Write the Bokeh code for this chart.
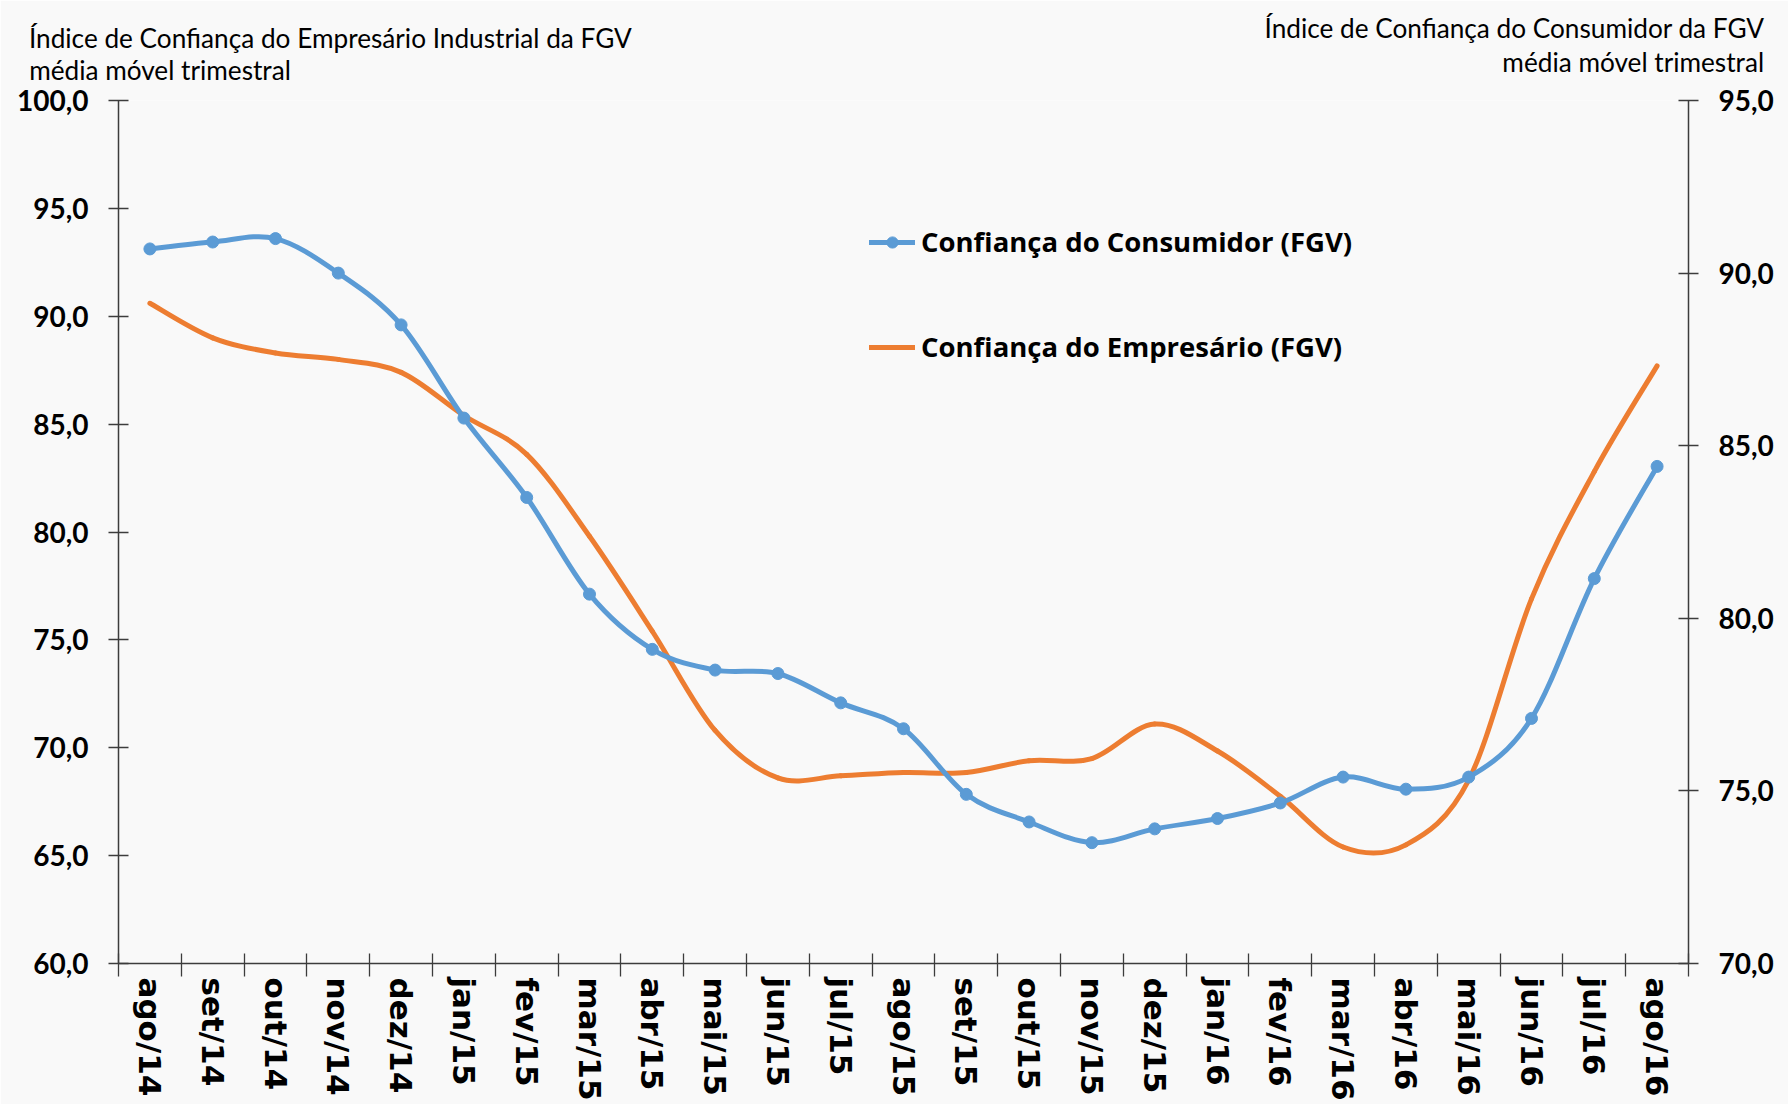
from bokeh.plotting import figure
from bokeh.models import Range1d, LinearAxis, FixedTicker, Legend, LegendItem, ColumnDataSource
from bokeh.embed import file_html
from bokeh.resources import INLINE

# ---------------- data ----------------
months = ["ago/14", "set/14", "out/14", "nov/14", "dez/14", "jan/15", "fev/15", "mar/15",
          "abr/15", "mai/15", "jun/15", "jul/15", "ago/15", "set/15", "out/15", "nov/15",
          "dez/15", "jan/16", "fev/16", "mar/16", "abr/16", "mai/16", "jun/16", "jul/16", "ago/16"]

consumidor = [90.7, 90.9, 91.0, 90.0, 88.5, 85.8, 83.5, 80.7, 79.1, 78.5, 78.4, 77.55, 76.8,
              74.9, 74.1, 73.5, 73.9, 74.2, 74.65, 75.4, 75.05, 75.4, 77.1, 81.15, 84.4]

empresario = [90.6, 89.0, 88.3, 88.0, 87.4, 85.4, 83.6, 79.8, 75.4, 70.8, 68.6, 68.7, 68.85,
              68.85, 69.4, 69.5, 71.1, 69.85, 67.75, 65.4, 65.5, 68.5, 76.9, 82.8, 87.7]

left_ticks = [60, 65, 70, 75, 80, 85, 90, 95, 100]
left_tick_labels = ["60,0", "65,0", "70,0", "75,0", "80,0", "85,0", "90,0", "95,0", "100,0"]
right_ticks = [70, 75, 80, 85, 90, 95]
right_tick_labels = ["70,0", "75,0", "80,0", "85,0", "90,0", "95,0"]

name_consumidor = "Confiança do Consumidor (FGV)"
name_empresario = "Confiança do Empresário (FGV)"
title_left = ["Índice de Confiança do Empresário Industrial da FGV", "média móvel trimestral"]
title_right = ["Índice de Confiança do Consumidor da FGV", "média móvel trimestral"]

# ---------------- style ----------------
BLUE = "#5B9BD5"
ORANGE = "#ED7D31"
BG = "#F9F9F9"
AXIS = "#3C3C3C"

n = len(months)
xc = [i + 0.5 for i in range(n)]          # category centres
bounds = list(range(n + 1))               # category boundaries


def smooth_segments(xs, ys, t=1.0 / 6.0):
    d = dict(x0=[], y0=[], x1=[], y1=[], cx0=[], cy0=[], cx1=[], cy1=[])
    m = len(xs)
    for i in range(m - 1):
        xp, yp = (xs[i - 1], ys[i - 1]) if i > 0 else (xs[i], ys[i])
        xn, yn = (xs[i + 2], ys[i + 2]) if i + 2 < m else (xs[i + 1], ys[i + 1])
        d["x0"].append(xs[i]); d["y0"].append(ys[i])
        d["x1"].append(xs[i + 1]); d["y1"].append(ys[i + 1])
        d["cx0"].append(xs[i] + (xs[i + 1] - xp) * t)
        d["cy0"].append(ys[i] + (ys[i + 1] - yp) * t)
        d["cx1"].append(xs[i + 1] - (xn - xs[i]) * t)
        d["cy1"].append(ys[i + 1] - (yn - ys[i]) * t)
    return ColumnDataSource(d)


p = figure(width=1788, height=1104, x_range=Range1d(0, n), y_range=Range1d(60, 100),
           output_backend="svg", toolbar_location=None, title=None,
           min_border_left=118, min_border_right=100, min_border_top=100, min_border_bottom=141,
           background_fill_color=BG, border_fill_color=BG, outline_line_color=None)
p.extra_y_ranges = {"cons": Range1d(70, 95)}
p.xgrid.visible = False
p.ygrid.visible = False

# x axis: labels at centres, tick marks at boundaries
xa = p.xaxis[0]
xa.ticker = FixedTicker(ticks=xc, minor_ticks=bounds)
xa.major_label_overrides = {x: m for x, m in zip(xc, months)}
xa.major_tick_in = 0
xa.major_tick_out = 0
xa.minor_tick_in = 10
xa.minor_tick_out = 13
xa.minor_tick_line_color = AXIS
xa.minor_tick_line_width = 1.3
xa.axis_line_color = AXIS
xa.axis_line_width = 1.5
xa.major_label_orientation = "vertical"
xa.major_label_standoff = 1
xa.major_label_text_font = "DejaVu Sans"
xa.major_label_text_font_style = "bold"
xa.major_label_text_font_size = "31px"
xa.major_label_text_color = "black"

# left axis
ya = p.yaxis[0]
ya.ticker = FixedTicker(ticks=left_ticks)
ya.major_label_overrides = {t: s for t, s in zip(left_ticks, left_tick_labels)}
ya.major_tick_in = 10
ya.major_tick_out = 10
ya.minor_tick_in = 0
ya.minor_tick_out = 0
ya.major_tick_line_color = AXIS
ya.major_tick_line_width = 1.3
ya.axis_line_color = AXIS
ya.axis_line_width = 1.5
ya.major_label_standoff = 20
ya.major_label_text_font = "Lato"
ya.major_label_text_font_style = "bold"
ya.major_label_text_font_size = "28px"
ya.major_label_text_color = "black"

# right axis
ra = LinearAxis(y_range_name="cons", ticker=FixedTicker(ticks=right_ticks))
ra.major_label_overrides = {t: s for t, s in zip(right_ticks, right_tick_labels)}
ra.major_tick_in = 10
ra.major_tick_out = 10
ra.minor_tick_in = 0
ra.minor_tick_out = 0
ra.major_tick_line_color = AXIS
ra.major_tick_line_width = 1.3
ra.axis_line_color = AXIS
ra.axis_line_width = 1.5
ra.major_label_standoff = 20
ra.major_label_text_font = "Lato"
ra.major_label_text_font_style = "bold"
ra.major_label_text_font_size = "28px"
ra.major_label_text_color = "black"
p.add_layout(ra, "right")

# axis titles: each line carried by a bare axis above the frame
TITLE_FONT = "26.2px"


def title_axis(pos, text, standoff):
    ax = LinearAxis(ticker=FixedTicker(ticks=[pos]))
    ax.major_label_overrides = {pos: text}
    ax.axis_line_color = None
    ax.major_tick_line_color = None
    ax.minor_tick_line_color = None
    ax.major_tick_in = 0
    ax.major_tick_out = 0
    ax.minor_tick_in = 0
    ax.minor_tick_out = 0
    ax.major_label_standoff = standoff
    ax.major_label_text_font = "Lato"
    ax.major_label_text_font_style = "normal"
    ax.major_label_text_font_size = TITLE_FONT
    ax.major_label_text_color = "black"
    return ax


# stacked outward from the frame: left line 2, right line 2, left line 1, right line 1
p.add_layout(title_axis(0.661, title_left[1], 15), "above")
p.add_layout(title_axis(24.12, title_right[1], -27), "above")
p.add_layout(title_axis(3.373, title_left[0], -11), "above")
p.add_layout(title_axis(22.23, title_right[0], -25), "above")

# series
r_emp = p.bezier(x0="x0", y0="y0", x1="x1", y1="y1", cx0="cx0", cy0="cy0", cx1="cx1", cy1="cy1",
                 source=smooth_segments(xc, empresario), line_color=ORANGE, line_width=5,
                 line_cap="round")
r_con = p.bezier(x0="x0", y0="y0", x1="x1", y1="y1", cx0="cx0", cy0="cy0", cx1="cx1", cy1="cy1",
                 source=smooth_segments(xc, consumidor), line_color=BLUE, line_width=5,
                 line_cap="round", y_range_name="cons")
r_pts = p.scatter(xc, consumidor, marker="circle", size=12, fill_color=BLUE, line_color=BLUE,
                  y_range_name="cons")

legend = Legend(items=[LegendItem(label=name_consumidor, renderers=[r_con, r_pts]),
                       LegendItem(label=name_empresario, renderers=[r_emp])],
                location=(751, 598), orientation="vertical",
                glyph_width=46, glyph_height=28, label_standoff=6, spacing=68,
                padding=0, margin=0, background_fill_alpha=0, border_line_color=None,
                label_text_font="Open Sans", label_text_font_style="bold",
                label_text_font_size="27.5px", label_text_color="black")
p.add_layout(legend)

open("out.html", "w").write(file_html(p, INLINE))
